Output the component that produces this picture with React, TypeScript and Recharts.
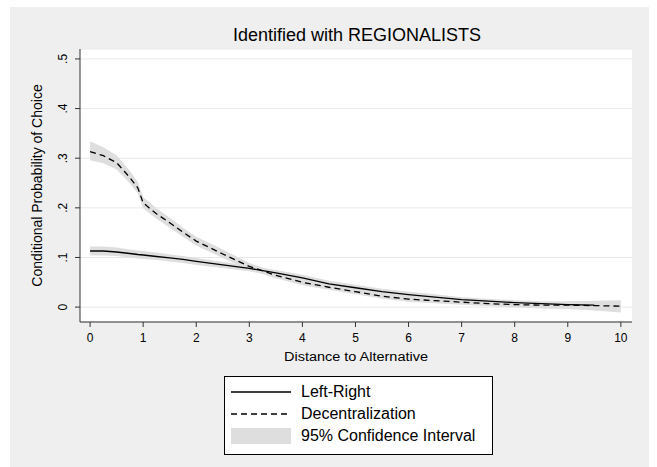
import {
  ComposedChart,
  Line,
  Area,
  XAxis,
  YAxis,
  CartesianGrid,
} from "recharts";

// distance to alternative (x) and estimated probabilities
const distance = [0, 0.25, 0.5, 0.75, 0.9, 1, 1.25, 1.5, 1.75, 2, 2.5, 3, 3.5, 4, 4.5, 5, 5.5, 6, 6.5, 7, 7.5, 8, 8.5, 9, 9.5, 10];

const leftRight = [0.113, 0.113, 0.111, 0.108, 0.106, 0.105, 0.102, 0.099, 0.096, 0.092, 0.085, 0.078, 0.069, 0.059, 0.047, 0.039, 0.031, 0.025, 0.02, 0.015, 0.012, 0.009, 0.007, 0.005, 0.004, null];
const leftRightLo = [0.104, 0.104, 0.103, 0.1, 0.098, 0.097, 0.095, 0.092, 0.089, 0.085, 0.079, 0.072, 0.063, 0.053, 0.041, 0.033, 0.025, 0.019, 0.014, 0.01, 0.007, 0.004, 0.002, 0.0, -0.001, null];
const leftRightHi = [0.122, 0.122, 0.12, 0.116, 0.114, 0.113, 0.11, 0.106, 0.103, 0.099, 0.091, 0.084, 0.075, 0.065, 0.053, 0.045, 0.037, 0.031, 0.026, 0.02, 0.017, 0.014, 0.012, 0.01, 0.009, null];

const decentral = [0.313, 0.305, 0.291, 0.261, 0.24, 0.21, 0.188, 0.17, 0.151, 0.133, 0.107, 0.082, 0.064, 0.05, 0.04, 0.031, 0.022, 0.016, 0.013, 0.01, 0.007, 0.005, 0.004, 0.004, 0.003, 0.002];
const decentralLo = [0.296, 0.29, 0.277, 0.249, 0.229, 0.199, 0.178, 0.16, 0.142, 0.124, 0.099, 0.075, 0.058, 0.044, 0.035, 0.026, 0.017, 0.011, 0.008, 0.005, 0.002, -0.001, -0.003, -0.004, -0.007, -0.011];
const decentralHi = [0.334, 0.322, 0.306, 0.274, 0.252, 0.222, 0.199, 0.18, 0.16, 0.142, 0.116, 0.089, 0.07, 0.056, 0.045, 0.036, 0.027, 0.021, 0.018, 0.015, 0.012, 0.011, 0.011, 0.012, 0.013, 0.014];

const xTicks = [0, 1, 2, 3, 4, 5, 6, 7, 8, 9, 10];
const yTicks = [0, 0.1, 0.2, 0.3, 0.4, 0.5];

const rows = distance.map((d, i) => ({
  d,
  lr: leftRight[i],
  dc: decentral[i],
  lrBand: leftRightLo[i] == null ? null : [leftRightLo[i], leftRightHi[i]],
  dcBand: [decentralLo[i], decentralHi[i]],
}));

const FONT = "'Liberation Sans', Arial, sans-serif";
const AXIS = "#333";
const BAND = "#dedede";

const fmtY = (v: number) => (v === 0 ? "0" : String(Math.round(v * 10) / 10).replace(/^0/, ""));

function YTick(props: any) {
  const { x, y, payload } = props;
  const bx = x - 6;
  return (
    <text
      x={bx}
      y={y}
      transform={`rotate(-90, ${bx}, ${y})`}
      textAnchor="middle"
      fontSize={12}
      fontFamily={FONT}
      fill="#000"
    >
      {fmtY(payload.value)}
    </text>
  );
}

function YLabel(props: any) {
  const { viewBox } = props;
  const cx = 42;
  const cy = viewBox.y + viewBox.height / 2;
  return (
    <text
      x={cx}
      y={cy}
      transform={`rotate(-90, ${cx}, ${cy})`}
      textAnchor="middle"
      fontSize={14}
      fontFamily={FONT}
      fill="#000"
    >
      Conditional Probability of Choice
    </text>
  );
}

function XLabel(props: any) {
  const { viewBox } = props;
  const cx = viewBox.x + viewBox.width / 2;
  return (
    <text
      x={cx}
      y={361}
      textAnchor="middle"
      fontSize={12}
      fontFamily={FONT}
      fill="#000"
      textLength={144}
      lengthAdjust="spacingAndGlyphs"
    >
      Distance to Alternative
    </text>
  );
}

function LegendRow({ kind, label }: { kind: "solid" | "dash" | "band"; label: string }) {
  return (
    <div style={{ display: "flex", alignItems: "center", height: 22 }}>
      <svg width={60} height={18} style={{ marginRight: 10 }}>
        {kind === "band" ? (
          <rect x={0} y={1} width={60} height={16} fill={BAND} />
        ) : (
          <line
            x1={0}
            x2={60}
            y1={9}
            y2={9}
            stroke="#000"
            strokeWidth={1.3}
            strokeDasharray={kind === "dash" ? "6 4" : undefined}
          />
        )}
      </svg>
      <span>{label}</span>
    </div>
  );
}

export default function App() {
  return (
    <div style={{ position: "absolute", left: 0, top: 0, width: 657, height: 467, background: "#fff", fontFamily: FONT }}>
      <div style={{ position: "absolute", left: 10, top: 7, width: 639, height: 460, background: "#efefef" }} />
      <div
        style={{
          position: "absolute",
          left: 157,
          width: 400,
          top: 25,
          textAlign: "center",
          fontSize: 18,
          color: "#000",
        }}
      >
        Identified with REGIONALISTS
      </div>
      <div style={{ position: "absolute", left: 0, top: 0 }}>
        <ComposedChart
          width={657}
          height={467}
          data={rows}
          margin={{ top: 49, right: 25, bottom: 103, left: 40 }}
        >
          <CartesianGrid vertical={false} stroke="#e8e8e8" fill="#fff" fillOpacity={1} />
          <XAxis
            dataKey="d"
            type="number"
            domain={[-0.19, 10.21]}
            ticks={xTicks}
            allowDataOverflow
            height={42}
            tickSize={5}
            tickMargin={6}
            axisLine={{ stroke: AXIS }}
            tickLine={{ stroke: AXIS }}
            tick={{ fontSize: 12, fill: "#000", fontFamily: FONT }}
            label={<XLabel />}
          />
          <YAxis
            type="number"
            domain={[-0.03, 0.52]}
            ticks={yTicks}
            allowDataOverflow
            width={40}
            tickSize={5}
            axisLine={{ stroke: AXIS }}
            tickLine={{ stroke: AXIS }}
            tick={<YTick />}
            label={<YLabel />}
          />
          <Area dataKey="dcBand" stroke="none" fill={BAND} fillOpacity={1} isAnimationActive={false} />
          <Area dataKey="lrBand" stroke="none" fill={BAND} fillOpacity={1} isAnimationActive={false} />
          <Line dataKey="lr" stroke="#000" strokeWidth={1.3} dot={false} isAnimationActive={false} />
          <Line dataKey="dc" stroke="#000" strokeWidth={1.3} strokeDasharray="6 4" dot={false} isAnimationActive={false} />
        </ComposedChart>
      </div>
      <div
        style={{
          position: "absolute",
          left: 224,
          top: 376,
          width: 261,
          height: 73,
          background: "#fff",
          border: "1px solid #000",
          boxSizing: "content-box",
          padding: "4px 0 0 6px",
          fontSize: 16,
          color: "#000",
        }}
      >
        <LegendRow kind="solid" label="Left-Right" />
        <LegendRow kind="dash" label="Decentralization" />
        <LegendRow kind="band" label="95% Confidence Interval" />
      </div>
    </div>
  );
}
